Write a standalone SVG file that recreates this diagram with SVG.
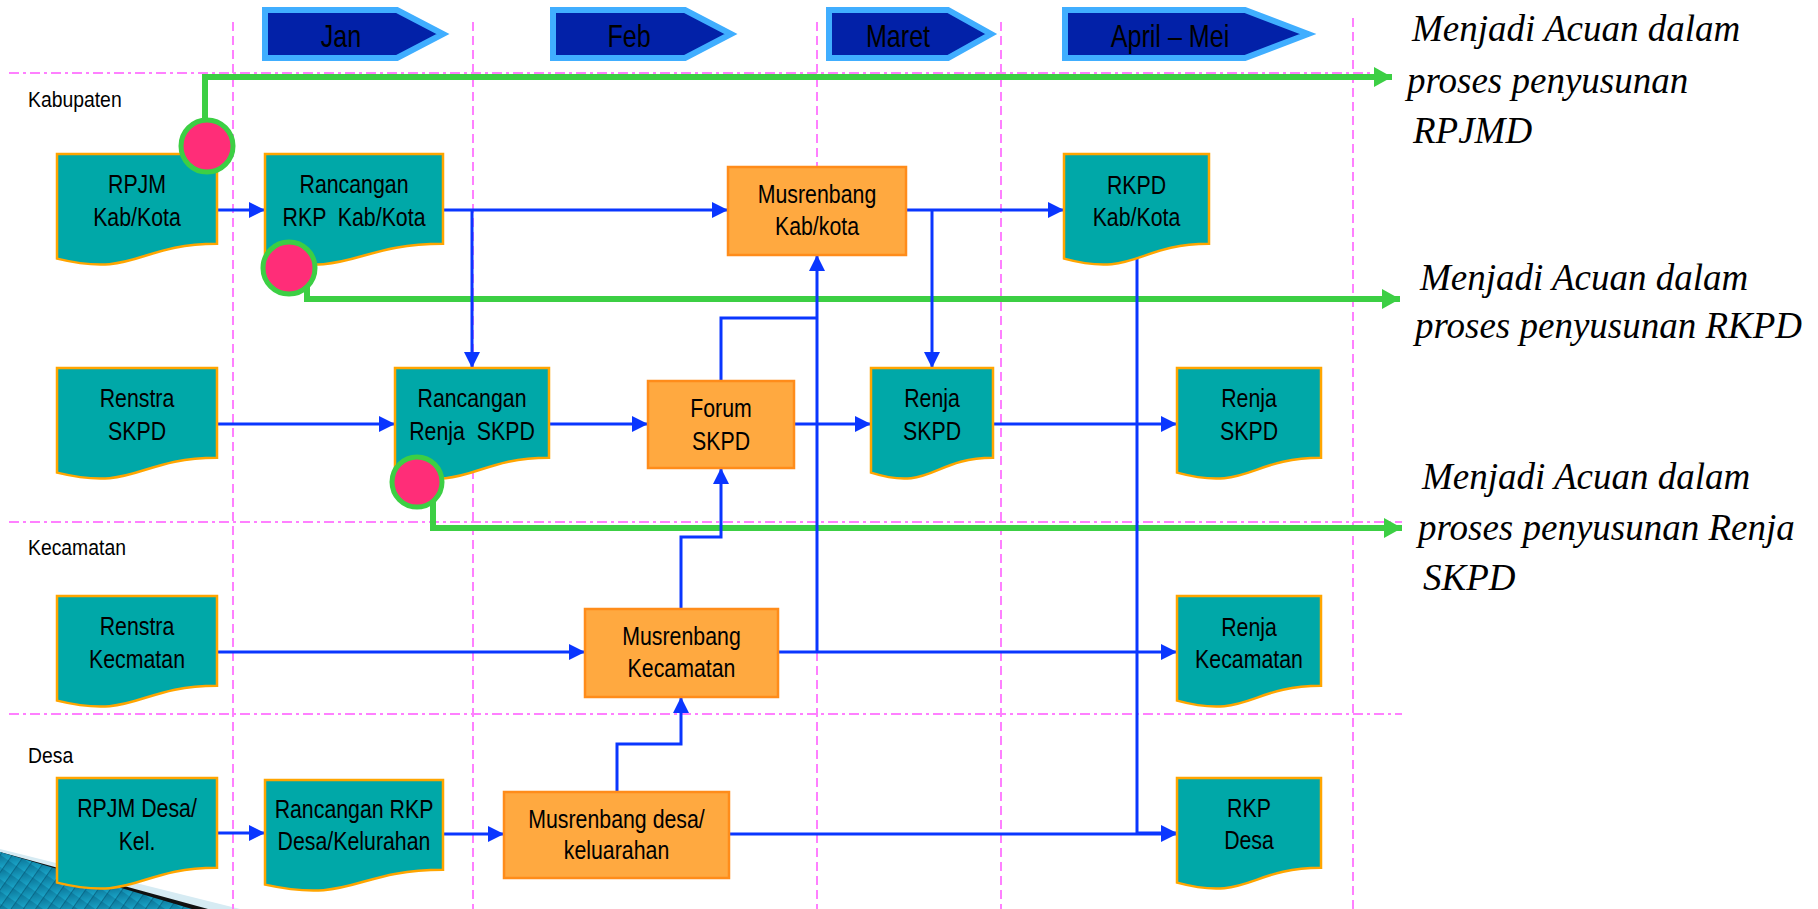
<svg xmlns="http://www.w3.org/2000/svg" width="1818" height="909" viewBox="0 0 1818 909">
<style>
.vgrid{stroke:#FF80FF;stroke-width:2;stroke-dasharray:9 5;fill:none}
.hgrid{stroke:#FF80FF;stroke-width:2;stroke-dasharray:10 4 3 4;fill:none}
.month{fill:#0221A8;stroke:#40AEFF;stroke-width:6}
.mtxt{font-family:"Liberation Sans","Arial",sans-serif;font-size:31px;fill:#000;text-anchor:middle}
.lane{font-family:"Liberation Sans","Arial",sans-serif;font-size:22px;fill:#000}
.doc{fill:#00A8A8;stroke:#FFA500;stroke-width:2.5}
.proc{fill:#FFA940;stroke:#FF8C1A;stroke-width:2.5}
.ntxt{font-family:"Liberation Sans","Arial",sans-serif;font-size:26px;fill:#000;text-anchor:middle;white-space:pre}
.blue{stroke:#0A36FF;stroke-width:3;fill:none}
.green{stroke:#3CCF44;stroke-width:6;fill:none}
.dot{fill:#FF2D78;stroke:#3CCF44;stroke-width:5}
.note{font-family:"Liberation Serif","Times New Roman",serif;font-style:italic;font-size:37px;fill:#000}
</style>
<defs>
<marker id="ab" markerUnits="userSpaceOnUse" markerWidth="16" markerHeight="16" refX="16" refY="8" orient="auto">
<path d="M0,0 L16,8 L0,16 Z" fill="#0A36FF"/>
</marker>
<marker id="ag" markerUnits="userSpaceOnUse" markerWidth="20" markerHeight="20" refX="18" refY="10" orient="auto">
<path d="M0,0 L18,10 L0,20 Z" fill="#3CCF44"/>
</marker>
<linearGradient id="deco" x1="0" y1="0" x2="1" y2="1">
<stop offset="0" stop-color="#0B7497"/>
<stop offset="1" stop-color="#1AA6C9"/>
</linearGradient>
<pattern id="stripes" patternUnits="userSpaceOnUse" width="10" height="10" patternTransform="rotate(35)">
<rect width="10" height="10" fill="url(#deco)"/>
<line x1="0" y1="0" x2="0" y2="10" stroke="#07617F" stroke-width="1.5"/>
</pattern>
</defs>
<rect width="1818" height="909" fill="#FFFFFF"/>

<g id="decoration">
<polygon points="0,849 240,909 0,909" fill="#D6EBF3"/>
<polygon points="0,852 208,909 0,909" fill="#111111"/>
<polygon points="0,852 192,909 0,909" fill="url(#stripes)"/>
</g>

<g id="grid">
<line class="vgrid" x1="233" y1="22" x2="233" y2="909"/>
<line class="vgrid" x1="473" y1="22" x2="473" y2="909"/>
<line class="vgrid" x1="817" y1="22" x2="817" y2="909"/>
<line class="vgrid" x1="1001" y1="22" x2="1001" y2="909"/>
<line class="vgrid" x1="1353" y1="18" x2="1353" y2="909"/>
<line class="hgrid" x1="9" y1="73" x2="1380" y2="73"/>
<line class="hgrid" x1="9" y1="522" x2="1402" y2="522"/>
<line class="hgrid" x1="9" y1="714" x2="1402" y2="714"/>
</g>

<g id="months">
<g id="m-jan"><path class="month" d="M265,10 H397 L443,34 L397,58 H265 Z"/><text class="mtxt" transform="translate(341,47) scale(0.81,1)">Jan</text></g>
<g id="m-feb"><path class="month" d="M553,10 H685 L731,34 L685,58 H553 Z"/><text class="mtxt" transform="translate(629,47) scale(0.81,1)">Feb</text></g>
<g id="m-maret"><path class="month" d="M829,10 H948 L991,34 L948,58 H829 Z"/><text class="mtxt" transform="translate(898,47) scale(0.81,1)">Maret</text></g>
<g id="m-april"><path class="month" d="M1065,10 H1245 L1308,34 L1245,58 H1065 Z"/><text class="mtxt" transform="translate(1170,47) scale(0.81,1)">April – Mei</text></g>
</g>

<g id="lanes">
<text class="lane" transform="translate(28,107) scale(0.88,1)">Kabupaten</text>
<text class="lane" transform="translate(28,555) scale(0.88,1)">Kecamatan</text>
<text class="lane" transform="translate(28,763) scale(0.88,1)">Desa</text>
</g>

<g id="connectors">
<path class="green" d="M205,125 V77 H1392" marker-end="url(#ag)"/>
<path class="green" d="M307,285 V299 H1400" marker-end="url(#ag)"/>
<path class="green" d="M433,500 V528 H1402" marker-end="url(#ag)"/>

<path class="blue" d="M217,210 H265" marker-end="url(#ab)"/>
<path class="blue" d="M443,210 H728" marker-end="url(#ab)"/>
<path class="blue" d="M472,210 V368" marker-end="url(#ab)"/>
<path class="blue" d="M906,210 H1064" marker-end="url(#ab)"/>
<path class="blue" d="M932,210 V368" marker-end="url(#ab)"/>
<path class="blue" d="M217,424 H395" marker-end="url(#ab)"/>
<path class="blue" d="M549,424 H648" marker-end="url(#ab)"/>
<path class="blue" d="M794,424 H871" marker-end="url(#ab)"/>
<path class="blue" d="M993,424 H1177" marker-end="url(#ab)"/>
<path class="blue" d="M721,381 V318 H817"/>
<path class="blue" d="M817,652 V255" marker-end="url(#ab)"/>
<path class="blue" d="M681,609 V537 H721 V468" marker-end="url(#ab)"/>
<path class="blue" d="M217,652 H585" marker-end="url(#ab)"/>
<path class="blue" d="M778,652 H1177" marker-end="url(#ab)"/>
<path class="blue" d="M1137,250 V833 H1177" marker-end="url(#ab)"/>
<path class="blue" d="M217,833 H265" marker-end="url(#ab)"/>
<path class="blue" d="M443,834 H504" marker-end="url(#ab)"/>
<path class="blue" d="M729,834 H1177" marker-end="url(#ab)"/>
<path class="blue" d="M617,792 V744 H681 V697" marker-end="url(#ab)"/>
</g>

<g id="n-rpjm-kab"><path class="doc" d="M57,154 H217 V243.8 C137,243.8 137,278 57,258.6 Z"/><text class="ntxt" transform="translate(137,193) scale(0.82,1)">RPJM</text><text class="ntxt" transform="translate(137,226) scale(0.82,1)">Kab/Kota</text></g>
<g id="n-rancangan-rkp-kab"><path class="doc" d="M265,154 H443 V243.8 C354,243.8 354,278 265,258.6 Z"/><text class="ntxt" transform="translate(354,193) scale(0.82,1)">Rancangan</text><text class="ntxt" transform="translate(354,226) scale(0.82,1)">RKP  Kab/Kota</text></g>
<g id="n-rkpd"><path class="doc" d="M1064,154 H1209 V243.8 C1136.5,243.8 1136.5,278 1064,258.6 Z"/><text class="ntxt" transform="translate(1136.5,194) scale(0.82,1)">RKPD</text><text class="ntxt" transform="translate(1136.5,226) scale(0.82,1)">Kab/Kota</text></g>
<g id="n-renstra-skpd"><path class="doc" d="M57,368 H217 V457.8 C137,457.8 137,492 57,472.6 Z"/><text class="ntxt" transform="translate(137,407) scale(0.82,1)">Renstra</text><text class="ntxt" transform="translate(137,440) scale(0.82,1)">SKPD</text></g>
<g id="n-rancangan-renja"><path class="doc" d="M395,368 H549 V457.8 C472,457.8 472,492 395,472.6 Z"/><text class="ntxt" transform="translate(472,407) scale(0.82,1)">Rancangan</text><text class="ntxt" transform="translate(472,440) scale(0.82,1)">Renja  SKPD</text></g>
<g id="n-renja-skpd-1"><path class="doc" d="M871,368 H993 V457.8 C932,457.8 932,492 871,472.6 Z"/><text class="ntxt" transform="translate(932,407) scale(0.82,1)">Renja</text><text class="ntxt" transform="translate(932,440) scale(0.82,1)">SKPD</text></g>
<g id="n-renja-skpd-2"><path class="doc" d="M1177,368 H1321 V457.8 C1249,457.8 1249,492 1177,472.6 Z"/><text class="ntxt" transform="translate(1249,407) scale(0.82,1)">Renja</text><text class="ntxt" transform="translate(1249,440) scale(0.82,1)">SKPD</text></g>
<g id="n-renstra-kec"><path class="doc" d="M57,596 H217 V685.8 C137,685.8 137,720 57,700.6 Z"/><text class="ntxt" transform="translate(137,635) scale(0.82,1)">Renstra</text><text class="ntxt" transform="translate(137,668) scale(0.82,1)">Kecmatan</text></g>
<g id="n-renja-kec"><path class="doc" d="M1177,596 H1321 V685.8 C1249,685.8 1249,720 1177,700.6 Z"/><text class="ntxt" transform="translate(1249,636) scale(0.82,1)">Renja</text><text class="ntxt" transform="translate(1249,668) scale(0.82,1)">Kecamatan</text></g>
<g id="n-rpjm-desa"><path class="doc" d="M57,778 H217 V867.8 C137,867.8 137,902 57,882.6 Z"/><text class="ntxt" transform="translate(137,817) scale(0.82,1)">RPJM Desa/</text><text class="ntxt" transform="translate(137,850) scale(0.82,1)">Kel.</text></g>
<g id="n-rancangan-rkp-desa"><path class="doc" d="M265,780 H443 V869.8 C354,869.8 354,904 265,884.6 Z"/><text class="ntxt" transform="translate(354,818) scale(0.82,1)">Rancangan RKP</text><text class="ntxt" transform="translate(354,850) scale(0.82,1)">Desa/Kelurahan</text></g>
<g id="n-rkp-desa"><path class="doc" d="M1177,778 H1321 V867.8 C1249,867.8 1249,902 1177,882.6 Z"/><text class="ntxt" transform="translate(1249,817) scale(0.82,1)">RKP</text><text class="ntxt" transform="translate(1249,849) scale(0.82,1)">Desa</text></g>

<g id="n-musrenbang-kab"><rect class="proc" x="728" y="167" width="178" height="88"/><text class="ntxt" transform="translate(817,203) scale(0.82,1)">Musrenbang</text><text class="ntxt" transform="translate(817,235) scale(0.82,1)">Kab/kota</text></g>
<g id="n-forum-skpd"><rect class="proc" x="648" y="381" width="146" height="87"/><text class="ntxt" transform="translate(721,417) scale(0.82,1)">Forum</text><text class="ntxt" transform="translate(721,450) scale(0.82,1)">SKPD</text></g>
<g id="n-musrenbang-kec"><rect class="proc" x="585" y="609" width="193" height="88"/><text class="ntxt" transform="translate(681.5,645) scale(0.82,1)">Musrenbang</text><text class="ntxt" transform="translate(681.5,677) scale(0.82,1)">Kecamatan</text></g>
<g id="n-musrenbang-desa"><rect class="proc" x="504" y="792" width="225" height="86"/><text class="ntxt" transform="translate(616.5,828) scale(0.82,1)">Musrenbang desa/</text><text class="ntxt" transform="translate(616.5,859) scale(0.82,1)">keluarahan</text></g>

<g id="markers-dots">
<ellipse class="dot" cx="207" cy="146" rx="26" ry="26"/>
<ellipse class="dot" cx="289" cy="268" rx="26" ry="26"/>
<ellipse class="dot" cx="417" cy="482" rx="25" ry="25"/>
</g>

<g id="notes">
<text class="note" x="1412" y="41">Menjadi Acuan dalam</text>
<text class="note" x="1407" y="93">proses penyusunan</text>
<text class="note" x="1413" y="143">RPJMD</text>
<text class="note" x="1420" y="290">Menjadi Acuan dalam</text>
<text class="note" x="1415" y="338">proses penyusunan RKPD</text>
<text class="note" x="1422" y="489">Menjadi Acuan dalam</text>
<text class="note" x="1418" y="540">proses penyusunan Renja</text>
<text class="note" x="1423" y="590">SKPD</text>
</g>
</svg>
